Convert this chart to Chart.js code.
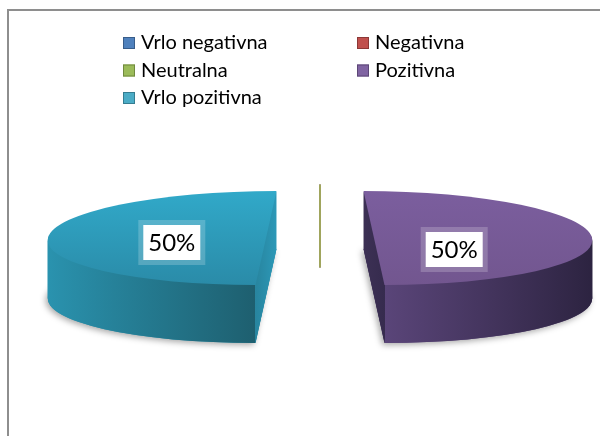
<!DOCTYPE html>
<html><head><meta charset="utf-8">
<script src="https://cdn.jsdelivr.net/npm/chart.js@4.4.0/dist/chart.umd.min.js"></script>
<style>
html,body{margin:0;padding:0;background:#fff;overflow:hidden;width:600px;height:436px;}
#frame{position:absolute;left:7px;top:9px;width:700px;height:600px;border-top:2px solid #8e8e8e;border-left:2px solid #8e8e8e;}
#c{position:absolute;left:0;top:0;}
</style></head><body>
<div id="frame"></div>
<canvas id="c" width="600" height="436"></canvas>
<script>
// ---- data ----
const categories = ['Vrlo negativna', 'Negativna', 'Neutralna', 'Pozitivna', 'Vrlo pozitivna'];
const values = [0, 0, 0, 50, 50];

// ---- styles ----
const baseColors = ['#4F81BD', '#C0504D', '#9BBB59', '#8064A2', '#4BACC6'];
const legendBorder = ['#385D8A', '#8C3836', '#71893F', '#5C4776', '#357D91'];
const topBack  = ['#4F81BD', '#C0504D', '#9BBB59', '#7B5E9E', '#31A9C9'];
const topFront = ['#4F81BD', '#C0504D', '#9BBB59', '#72568F', '#2A8BA8'];
const sideLight = ['#3A6A9E', '#9C3F3C', '#7C9A45', '#5A4579', '#2A93AF'];
const sideDark  = ['#23405F', '#5E2624', '#4A5C29', '#2C2340', '#1E5F6F'];
const cutTop = ['#3A6A9E', '#9C3F3C', '#7C9A45', '#3C3054', '#2C98B7'];
const cutBot = ['#23405F', '#5E2624', '#4A5C29', '#32284A', '#25788F'];

const K = 47 / 218;      // vertical squash of the pie plane
const TOP_Y = 238;       // screen y of pie centre (top face)
const DEPTH = 58;        // extrusion height
const EXPLODE = 54;      // slice explosion
const SKEW = 10.5;       // pseudo perspective

const pie3d = {
  id: 'pie3d',
  beforeDatasetDraw(chart, args) {
    const ctx = chart.ctx;
    const arcs = args.meta.data;
    const W = chart.width, H = chart.height;
    // zero-value slices: thin side faces
    arcs.forEach((arc, i) => {
      const p = arc.getProps(['x', 'y', 'startAngle', 'endAngle', 'outerRadius', 'circumference']);
      if (p.circumference !== 0) return;
      const a = p.startAngle;
      const e = 30;
      const cx = p.x + Math.cos(a) * e;
      const cyS = TOP_Y + Math.sin(a) * e * K;
      const rx = cx + Math.cos(a) * p.outerRadius;
      const ry = cyS + Math.sin(a) * p.outerRadius * K;
      ctx.save();
      ctx.strokeStyle = baseColors[i];
      ctx.lineWidth = 1.5;
      ctx.beginPath();
      ctx.moveTo(rx, ry);
      ctx.lineTo(cx, cyS + DEPTH * 0.62);
      ctx.stroke();
      ctx.restore();
    });

    arcs.forEach((arc, i) => {
      const p = arc.getProps(['x', 'y', 'startAngle', 'endAngle', 'outerRadius', 'circumference']);
      if (p.circumference === 0) return;
      const mid = (p.startAngle + p.endAngle) / 2;
      const R = p.outerRadius;
      const s = Math.cos(mid) * SKEW / R;
      const exX = Math.cos(mid) * EXPLODE, exY = Math.sin(mid) * EXPLODE * K;
      const setT = (dy) => {
        ctx.translate(exX, exY + dy + TOP_Y);
        ctx.scale(1, K);
        ctx.translate(0, -p.y);
        ctx.transform(1, 0, s, 1, -s * p.y, 0);
      };
      const mk = (bg) => {
        const f = Object.create(arc);
        f.options = Object.assign({}, arc.options, {backgroundColor: bg, borderWidth: 0, offset: 0, spacing: 0});
        return f;
      };
      const xs = [p.x];
      for (let t = 0; t <= 32; t++) xs.push(p.x + R * Math.cos(p.startAngle + (p.endAngle - p.startAngle) * t / 32));
      const x0 = Math.min(...xs), x1 = Math.max(...xs);
      const sideGrad = ctx.createLinearGradient(x0, 0, x1, 0);
      sideGrad.addColorStop(0, sideLight[i]);
      sideGrad.addColorStop(1, sideDark[i]);
      const cutGrad = ctx.createLinearGradient(0, p.y - R, 0, p.y + R + DEPTH / K);
      cutGrad.addColorStop(0, cutTop[i]);
      cutGrad.addColorStop(1, cutBot[i]);
      const cornerX = p.x + exX + s * R;
      const sideLeft = Math.cos(mid) < 0;

      // shadow
      ctx.save();
      ctx.shadowColor = 'rgba(0,0,0,0.35)';
      ctx.shadowBlur = 6;
      ctx.shadowOffsetX = -2;
      ctx.shadowOffsetY = 2;
      setT(DEPTH);
      mk(sideLight[i]).draw(ctx);
      ctx.restore();

      // side layers
      const pass = (clipX0, clipX1, fill) => {
        ctx.save();
        ctx.beginPath();
        ctx.rect(clipX0, 0, clipX1 - clipX0, H);
        ctx.clip();
        const el = mk(fill);
        for (let d = DEPTH; d >= 1; d--) {
          ctx.save();
          setT(d);
          el.draw(ctx);
          ctx.restore();
        }
        ctx.restore();
      };
      if (sideLeft) {
        pass(0, cornerX, sideGrad);
        pass(cornerX, W, cutGrad);
      } else {
        pass(cornerX, W, sideGrad);
        pass(0, cornerX, cutGrad);
      }

      // top face
      ctx.save();
      setT(0);
      const topGrad = ctx.createLinearGradient(0, p.y - R, 0, p.y + R);
      topGrad.addColorStop(0, topBack[i]);
      topGrad.addColorStop(1, topFront[i]);
      mk(topGrad).draw(ctx);
      ctx.restore();
    });

    // data labels
    const total = values.reduce((a, b) => a + b, 0);
    arcs.forEach((arc, i) => {
      const p = arc.getProps(['x', 'y', 'startAngle', 'endAngle', 'outerRadius', 'circumference']);
      if (p.circumference === 0) return;
      const mid = (p.startAngle + p.endAngle) / 2;
      const lx = p.x + Math.cos(mid) * (EXPLODE + p.outerRadius * 0.4) - 7;
      const ly = TOP_Y + 8 + Math.cos(mid) * 3.5;
      const w = 57, h = 35, ring = 5;
      ctx.save();
      ctx.fillStyle = 'rgba(255,255,255,0.2)';
      ctx.fillRect(lx - w / 2 - ring, ly - h / 2 - ring, w + ring * 2, h + ring * 2);
      ctx.fillStyle = '#fff';
      ctx.fillRect(lx - w / 2, ly - h / 2, w, h);
      ctx.fillStyle = '#000';
      ctx.font = '24px Lato';
      ctx.textAlign = 'center';
      ctx.textBaseline = 'middle';
      ctx.fillText(Math.round(values[i] / total * 100) + '%', lx, ly + 1);
      ctx.restore();
    });
    return false;
  },
  afterDraw(chart) {
    const ctx = chart.ctx;
    const colX = [123, 357];
    const rowY = [49, 76.5, 104];
    ctx.save();
    ctx.font = '20px Lato';
    ctx.textBaseline = 'alphabetic';
    ctx.textAlign = 'left';
    categories.forEach((label, i) => {
      const bx = colX[i % 2], by = rowY[Math.floor(i / 2)];
      const g = ctx.createLinearGradient(0, by - 12, 0, by);
      g.addColorStop(0, baseColors[i]);
      g.addColorStop(1, baseColors[i]);
      ctx.fillStyle = g;
      ctx.fillRect(bx, by - 12, 12, 12);
      ctx.strokeStyle = legendBorder[i];
      ctx.lineWidth = 1;
      ctx.strokeRect(bx + 0.5, by - 11.5, 11, 11);
      ctx.fillStyle = '#000';
      ctx.fillText(label, bx + 18, by);
    });
    ctx.restore();
  }
};

new Chart(document.getElementById('c'), {
  type: 'pie',
  data: {
    labels: categories,
    datasets: [{data: values, backgroundColor: baseColors, borderWidth: 0}]
  },
  options: {
    responsive: false,
    animation: false,
    layout: {padding: {left: 40, right: 0, top: 0, bottom: 0}},
    plugins: {legend: {display: false}, tooltip: {enabled: false}}
  },
  plugins: [pie3d]
});
</script>
</body></html>
